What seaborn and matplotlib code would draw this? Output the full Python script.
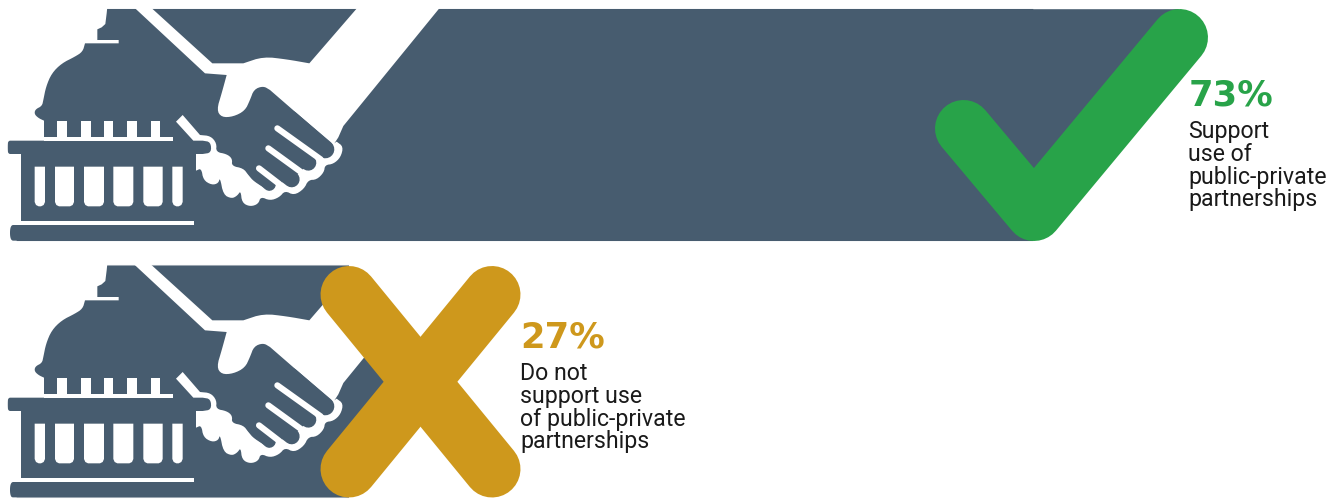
import numpy as np
import matplotlib
matplotlib.use("Agg")
import matplotlib.pyplot as plt
from matplotlib.patches import Polygon
import seaborn as sns

categories = ["Support", "Do not support"]
shares = [73, 27]
share_colors = ["#28A349", "#CE981C"]
captions = [
    ["Support", "use of", "public-private", "partnerships"],
    ["Do not", "support use", "of public-private", "partnerships"],
]

BAR = "#475C6F"
W, H = 1340, 499
X0 = 7
PX_PER_UNIT = (1034 - X0) / 73


def chaikin(pts, n=2):
    # corner cutting, the two end points stay where they are
    pts = np.asarray(pts, float)
    for _ in range(n):
        q = 0.75 * pts[:-1] + 0.25 * pts[1:]
        r = 0.25 * pts[:-1] + 0.75 * pts[1:]
        pts = np.vstack([pts[0], np.column_stack([q, r]).reshape(-1, 2), pts[-1]])
    return pts


# icon outlines, traced on a 3x crop of the first row
lantern = [(-5, 20), (322, 20), (320, 40), (316, 72), (305, 82), (292, 88), (292, 120), (356, 120),
           (356, 130), (255, 130)]
dome = [(255, 130), (248, 155), (225, 170), (185, 190), (155, 220), (138, 260), (130, 300), (126, 318),
        (106, 328), (103, 342), (115, 354), (132, 362)]
platform = [(132, 422), (40, 422), (22, 422), (22, 462), (40, 462), (63, 462)]
foot = [(50, 675), (30, 675), (30, 722), (50, 722)]
outside = np.vstack([lantern, chaikin(dome), chaikin(platform, 3), [(63, 675)], chaikin(foot, 3),
                     [(50, 730), (-5, 730)]])

sleeve = [(400, 20), (450, 20), (637, 190), (730, 190)]
thumb_top = [(730, 190), (790, 170), (860, 178), (928, 190)]
sleeve_right = [(928, 190), (1075, 20), (1322, 20), (1030, 378), (1015, 412), (1000, 435), (810, 270)]
thumb = [(810, 270), (790, 258), (762, 268), (750, 300), (735, 332), (700, 350), (665, 352), (650, 330),
         (665, 280), (680, 225)]
upper_hand = np.vstack([sleeve, chaikin(thumb_top), sleeve_right, chaikin(thumb), [(615, 220)]])

ring_left = [(588, 512), (588, 462), (608, 462)]
platform_end = [(608, 462), (634, 458), (632, 426), (608, 422)]
wand = [(608, 422), (580, 422), (528, 365), (548, 345), (600, 405)]
ring_top = [(600, 405), (632, 408), (650, 430), (648, 456), (680, 462), (697, 476), (695, 498), (730, 505),
            (745, 525), (762, 545), (808, 572)]
tips = [(808, 572), (812, 555), (875, 540), (928, 490), (978, 445), (1010, 425)]
ring_out = [(1010, 425), (1030, 440), (1022, 472), (1000, 492), (975, 495), (972, 517), (950, 539), (925, 540),
            (912, 567), (882, 586), (855, 572), (838, 592), (810, 602), (782, 590), (775, 612), (750, 620),
            (726, 608), (722, 572), (712, 587), (695, 596), (670, 584), (660, 532), (655, 550), (635, 555),
            (610, 540), (604, 505), (588, 512)]
lower_hand = np.vstack([ring_left, chaikin(platform_end), wand, chaikin(ring_top), tips, chaikin(ring_out)])

# finger capsules: start, tip, thickness in px
fingers = [((870, 358), (976, 448), 18), ((830, 420), (925, 488), 16), ((800, 480), (875, 538), 16),
           ((760, 510), (808, 553), 13)]
finger_lines = [((832, 385), (962, 478)), ((805, 445), (925, 532)), ((777, 505), (838, 552))]
dome_gaps = [(172, 200), (243, 272), (312, 340), (382, 410), (452, 480)]
windows = [(104, 135), (165, 222), (252, 312), (340, 400), (430, 488), (517, 548)]


def white(ax, pts, dy):
    pts = np.asarray(pts, float) / 3
    pts[:, 1] += dy
    ax.add_patch(Polygon(pts, closed=True, fc="white", ec="none"))


def draw_icon(ax, dy):
    white(ax, outside, dy)
    white(ax, upper_hand, dy)
    white(ax, lower_hand, dy)
    for a, b, thick in fingers:
        ax.plot([a[0] / 3, b[0] / 3], [a[1] / 3 + dy, b[1] / 3 + dy], color=BAR, lw=thick * 0.72,
                solid_capstyle="round")
    for a, b in finger_lines:
        ax.plot([a[0] / 3, b[0] / 3], [a[1] / 3 + dy, b[1] / 3 + dy], color="white", lw=4.4,
                solid_capstyle="round")
    white(ax, [(132, 410), (518, 410), (518, 422), (132, 422)], dy)
    white(ax, [(63, 662), (582, 662), (582, 675), (63, 675)], dy)
    for x0, x1 in dome_gaps:
        white(ax, [(x0, 362), (x1, 362), (x1, 410), (x0, 410)], dy)
    for x0, x1 in windows:
        white(ax, [(x0, 500), (x1, 500), (x1, 606), (x1 - 4, 615), (x1 - 12, 619),
                   (x0 + 12, 619), (x0 + 4, 615), (x0, 606)], dy)


sns.set_theme(style="white")
fig = plt.figure(figsize=(W / 100, H / 100), dpi=100)
ax = fig.add_axes([0, 0, 1, 1])
sns.barplot(x=shares, y=categories, orient="h", color=BAR, width=233.5 / 256.5, saturation=1, ax=ax)
for bar in ax.patches:
    bar.set_snap(False)
ax.set_xlim(-X0 / PX_PER_UNIT, (W - X0) / PX_PER_UNIT)
ax.set_ylim((H - 125) / 256.5, -125 / 256.5)
ax.axis("off")

# everything on top of the bars, in image pixels
top = fig.add_axes([0, 0, 1, 1])
top.set_xlim(0, W)
top.set_ylim(H, 0)
top.axis("off")
top.patch.set_alpha(0)

# bar end slants along the check mark
top.add_patch(Polygon([(1030, 9.2), (1179, 9.2), (1030, 212)], fc=BAR, ec="none", snap=False))
draw_icon(top, 0)
draw_icon(top, 257)

# bar corners that stick out beside the cross
top.fill_between([349, 395], 264, 300, color="white", lw=0)
top.fill_between([349, 395], 464, 499, color="white", lw=0)

mark_lw = 57 * 72 / 100
top.plot([963.5, 1034, 1179.5], [128.5, 212.5, 37.5], color=share_colors[0], lw=mark_lw,
         solid_capstyle="round", solid_joinstyle="round")
top.plot([349, 492], [469, 294.5], color=share_colors[1], lw=mark_lw, solid_capstyle="round")
top.plot([349, 492], [294.5, 469], color=share_colors[1], lw=mark_lw, solid_capstyle="round")

text_x = [1188.5, 520]
pct_y = [105, 347]
first_line_y = [138, 380]
for i, v in enumerate(shares):
    top.text(text_x[i], pct_y[i], f"{v}%", color=share_colors[i], family="DejaVu Sans",
             fontweight="bold", fontsize=25.5, va="baseline", ha="left")
    for j, line in enumerate(captions[i]):
        top.text(text_x[i], first_line_y[i] + j * 22.8, line, color="#1a1a1a", family="Roboto",
                 fontsize=16.7, va="baseline", ha="left")

fig.savefig("out.png", dpi=100)
